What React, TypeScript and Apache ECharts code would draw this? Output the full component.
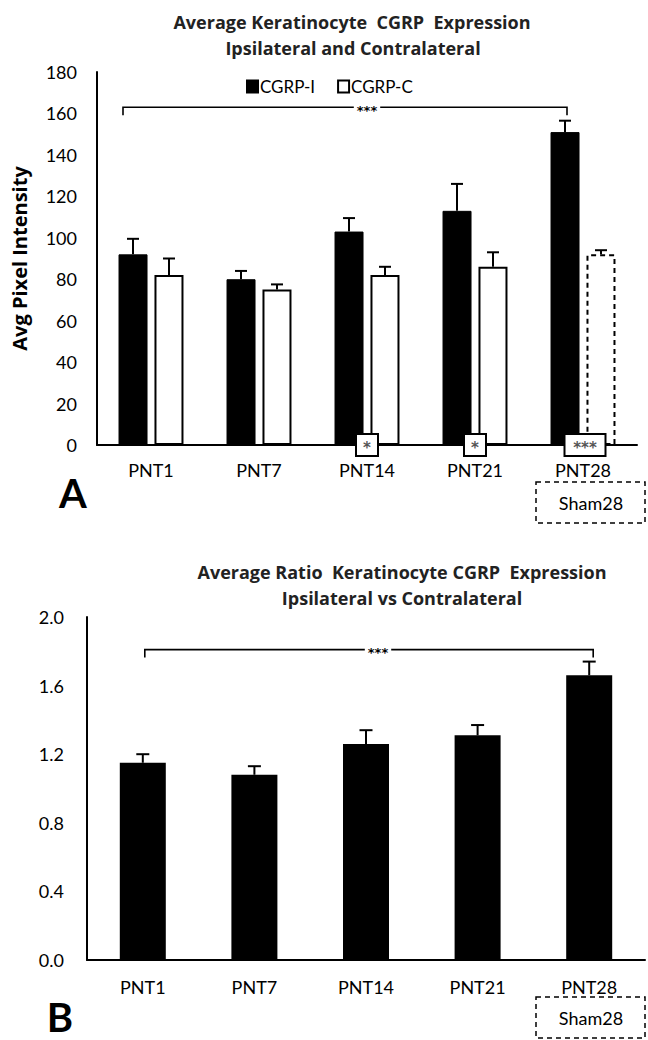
import React, { useEffect, useRef } from "react";
import * as echarts from "echarts";

const categories = ["PNT1", "PNT7", "PNT14", "PNT21", "PNT28"];
const ipsiValues = [92, 80, 103, 113, 151];
const ipsiErrors = [7.5, 4, 6.5, 13, 5.5];
const contraValues = [82, 75, 82, 86, 92];
const contraErrors = [8, 2.5, 4, 7, 2];
const contraSigLabels = ["", "", "*", "*", "***"];
const ratioValues = [1.15, 1.08, 1.26, 1.31, 1.66];
const ratioErrors = [0.05, 0.05, 0.08, 0.06, 0.08];
const bracketA = { from: 0, to: 4, value: 163, label: "***" };
const bracketB = { from: 0, to: 4, value: 1.81, label: "***" };
const shamLabel = "Sham28";

const FONT = "Lato, 'Open Sans', sans-serif";
const BOLD_FONT = "'Open Sans', Lato, sans-serif";
const STAR_FONT = "'DejaVu Sans', sans-serif";

function errorBarSeries(name: string, values: number[], errors: number[], xi: number, offset: number, cap: number) {
  return {
    type: "custom",
    name,
    xAxisIndex: xi,
    yAxisIndex: xi,
    silent: true,
    z: 5,
    data: values.map((v, i) => [i, v, errors[i]]),
    encode: { x: 0, y: 1 },
    renderItem: (params: any, api: any) => {
      const i = api.value(0);
      const v = api.value(1);
      const e = api.value(2);
      const base = api.coord([i, v]);
      const top = api.coord([i, v + e]);
      const x = base[0] + offset;
      return {
        type: "group",
        children: [
          { type: "line", shape: { x1: x, y1: base[1], x2: x, y2: top[1] }, style: { stroke: "#000", lineWidth: 2 } },
          { type: "line", shape: { x1: x - cap / 2, y1: top[1], x2: x + cap / 2, y2: top[1] }, style: { stroke: "#000", lineWidth: 2 } },
        ],
      };
    },
  };
}

function bracketSeries(b: any, xi: number, leftOff: number, rightOff: number, starOff: number) {
  return {
    type: "custom",
    xAxisIndex: xi,
    yAxisIndex: xi,
    silent: true,
    z: 6,
    data: [[b.from, b.value, b.to]],
    encode: { x: 0, y: 1 },
    renderItem: (params: any, api: any) => {
      const p1 = api.coord([api.value(0), api.value(1)]);
      const p2 = api.coord([api.value(2), api.value(1)]);
      const lx = p1[0] + leftOff;
      const rx = p2[0] + rightOff;
      const y = p1[1];
      return {
        type: "group",
        children: [
          {
            type: "polyline",
            shape: { points: [[lx, y + 8], [lx, y], [rx, y], [rx, y + 8]] },
            style: { stroke: "#000", lineWidth: 1.6, fill: "none" },
          },
          {
            type: "text",
            x: (lx + rx) / 2 + starOff,
            y: y + 3,
            style: {
              text: b.label,
              font: "bold 13px " + STAR_FONT,
              fill: "#000",
              align: "center",
              verticalAlign: "middle",
              backgroundColor: "#fff",
              padding: [0, 3],
            },
          },
        ],
      };
    },
  };
}

export default function App() {
  const ref = useRef<HTMLDivElement>(null);
  useEffect(() => {
    document.body.style.margin = "0";
    const chart = echarts.init(ref.current!, null, { renderer: "svg" });
    const axisCommon = {
      type: "category",
      data: categories,
      axisLine: { lineStyle: { color: "#000", width: 2 } },
      axisTick: { show: false },
      axisLabel: { color: "#000", fontSize: 18, fontFamily: FONT },
    };
    const yCommon = {
      type: "value",
      axisLine: { show: true, lineStyle: { color: "#000", width: 2 } },
      axisTick: { show: false },
      splitLine: { show: false },
      axisLabel: { color: "#000", fontSize: 18, fontFamily: FONT },
    };
    const option: any = {
      animation: false,
      backgroundColor: "#fff",
      textStyle: { fontFamily: FONT },
      grid: [
        { left: 97, top: 72, width: 540, height: 373 },
        { left: 87, top: 617, width: 558, height: 343 },
      ],
      legend: {
        data: ["CGRP-I", "CGRP-C"],
        left: 246,
        top: 78,
        icon: "rect",
        itemWidth: 11,
        itemHeight: 12,
        itemGap: 22,
        padding: 0,
        textStyle: { color: "#000", fontSize: 17, fontFamily: FONT, padding: [0, 0, 0, -3] },
      },
      xAxis: [
        { ...axisCommon, gridIndex: 0, axisLabel: { ...axisCommon.axisLabel, margin: 16 } },
        { ...axisCommon, gridIndex: 1, axisLabel: { ...axisCommon.axisLabel, margin: 18 } },
      ],
      yAxis: [
        {
          ...yCommon,
          gridIndex: 0,
          min: 0,
          max: 180,
          interval: 20,
          axisLabel: { ...yCommon.axisLabel, margin: 20 },
          name: "Avg Pixel Intensity",
          nameLocation: "middle",
          nameGap: 68,
          nameTextStyle: { color: "#000", fontWeight: "bold", fontSize: 20, fontFamily: BOLD_FONT },
        },
        {
          ...yCommon,
          gridIndex: 1,
          min: 0,
          max: 2,
          interval: 0.4,
          axisLabel: { ...yCommon.axisLabel, margin: 23, formatter: (v: number) => v.toFixed(1) },
        },
      ],
      series: [
        {
          type: "bar",
          name: "CGRP-I",
          xAxisIndex: 0,
          yAxisIndex: 0,
          data: ipsiValues,
          barWidth: 29,
          barGap: "24%",
          itemStyle: { color: "#000", borderColor: "#000", borderWidth: 1 },
        },
        {
          type: "bar",
          name: "CGRP-C",
          xAxisIndex: 0,
          yAxisIndex: 0,
          data: contraValues.map((v, i) =>
            i === categories.length - 1
              ? { value: v, itemStyle: { borderType: [5, 4], borderWidth: 2 } }
              : v
          ),
          barWidth: 29,
          barGap: "24%",
          itemStyle: { color: "#fff", borderColor: "#000", borderWidth: 2 },
        },
        errorBarSeries("errI", ipsiValues, ipsiErrors, 0, -18, 12),
        errorBarSeries("errC", contraValues, contraErrors, 0, 18, 12),
        bracketSeries(bracketA, 0, -28, -16, 22),
        {
          type: "custom",
          xAxisIndex: 0,
          yAxisIndex: 0,
          silent: true,
          z: 7,
          data: categories.map((c, i) => [i, 0]),
          encode: { x: 0, y: 1 },
          renderItem: (params: any, api: any) => {
            const label = contraSigLabels[params.dataIndex];
            if (!label) return null;
            const p = api.coord([api.value(0), 0]);
            const w = label.length > 1 ? 41 : 22;
            const cx = p[0] + (label.length > 1 ? 2 : 0);
            return {
              type: "group",
              children: [
                {
                  type: "rect",
                  shape: { x: cx - w / 2, y: p[1] - 11, width: w, height: 22 },
                  style: { fill: "#fff", stroke: "#000", lineWidth: 2 },
                },
                {
                  type: "text",
                  x: cx,
                  y: p[1] + 3,
                  style: { text: label, font: "bold 15px " + STAR_FONT, fill: "#555", align: "center", verticalAlign: "middle" },
                },
              ],
            };
          },
        },
        {
          type: "bar",
          name: "Ratio",
          xAxisIndex: 1,
          yAxisIndex: 1,
          data: ratioValues,
          barWidth: 46,
          itemStyle: { color: "#000" },
        },
        errorBarSeries("errR", ratioValues, ratioErrors, 1, 0, 13),
        bracketSeries(bracketB, 1, 2, 4, 9),
      ],
      graphic: [
        { type: "text", x: 352, y: 22, style: { text: "Average Keratinocyte  CGRP  Expression", font: "bold 18px " + BOLD_FONT, fill: "#222", align: "center", verticalAlign: "middle" } },
        { type: "text", x: 353, y: 48, style: { text: "Ipsilateral and Contralateral", font: "bold 18px " + BOLD_FONT, fill: "#222", align: "center", verticalAlign: "middle" } },
        { type: "text", x: 402, y: 572, style: { text: "Average Ratio  Keratinocyte CGRP  Expression", font: "bold 18px " + BOLD_FONT, fill: "#222", align: "center", verticalAlign: "middle" } },
        { type: "text", x: 402, y: 598, style: { text: "Ipsilateral vs Contralateral", font: "bold 18px " + BOLD_FONT, fill: "#222", align: "center", verticalAlign: "middle" } },
        { type: "text", x: 73, y: 493, style: { text: "A", font: "bold 40px " + FONT, fill: "#000", align: "center", verticalAlign: "middle" } },
        { type: "text", x: 60, y: 1017, style: { text: "B", font: "bold 40px " + FONT, fill: "#000", align: "center", verticalAlign: "middle" } },
        { type: "rect", shape: { x: 536, y: 482, width: 109, height: 41 }, style: { fill: "none", stroke: "#000", lineWidth: 1.5, lineDash: [5, 4] } },
        { type: "text", x: 591, y: 503, style: { text: shamLabel, font: "18px " + FONT, fill: "#000", align: "center", verticalAlign: "middle" } },
        { type: "rect", shape: { x: 536, y: 997, width: 109, height: 41 }, style: { fill: "none", stroke: "#000", lineWidth: 1.5, lineDash: [5, 4] } },
        { type: "text", x: 591, y: 1018, style: { text: shamLabel, font: "18px " + FONT, fill: "#000", align: "center", verticalAlign: "middle" } },
      ],
    };
    chart.setOption(option);
    return () => chart.dispose();
  }, []);
  return <div ref={ref} style={{ position: "absolute", left: 0, top: 0, width: 648, height: 1040 }} />;
}
